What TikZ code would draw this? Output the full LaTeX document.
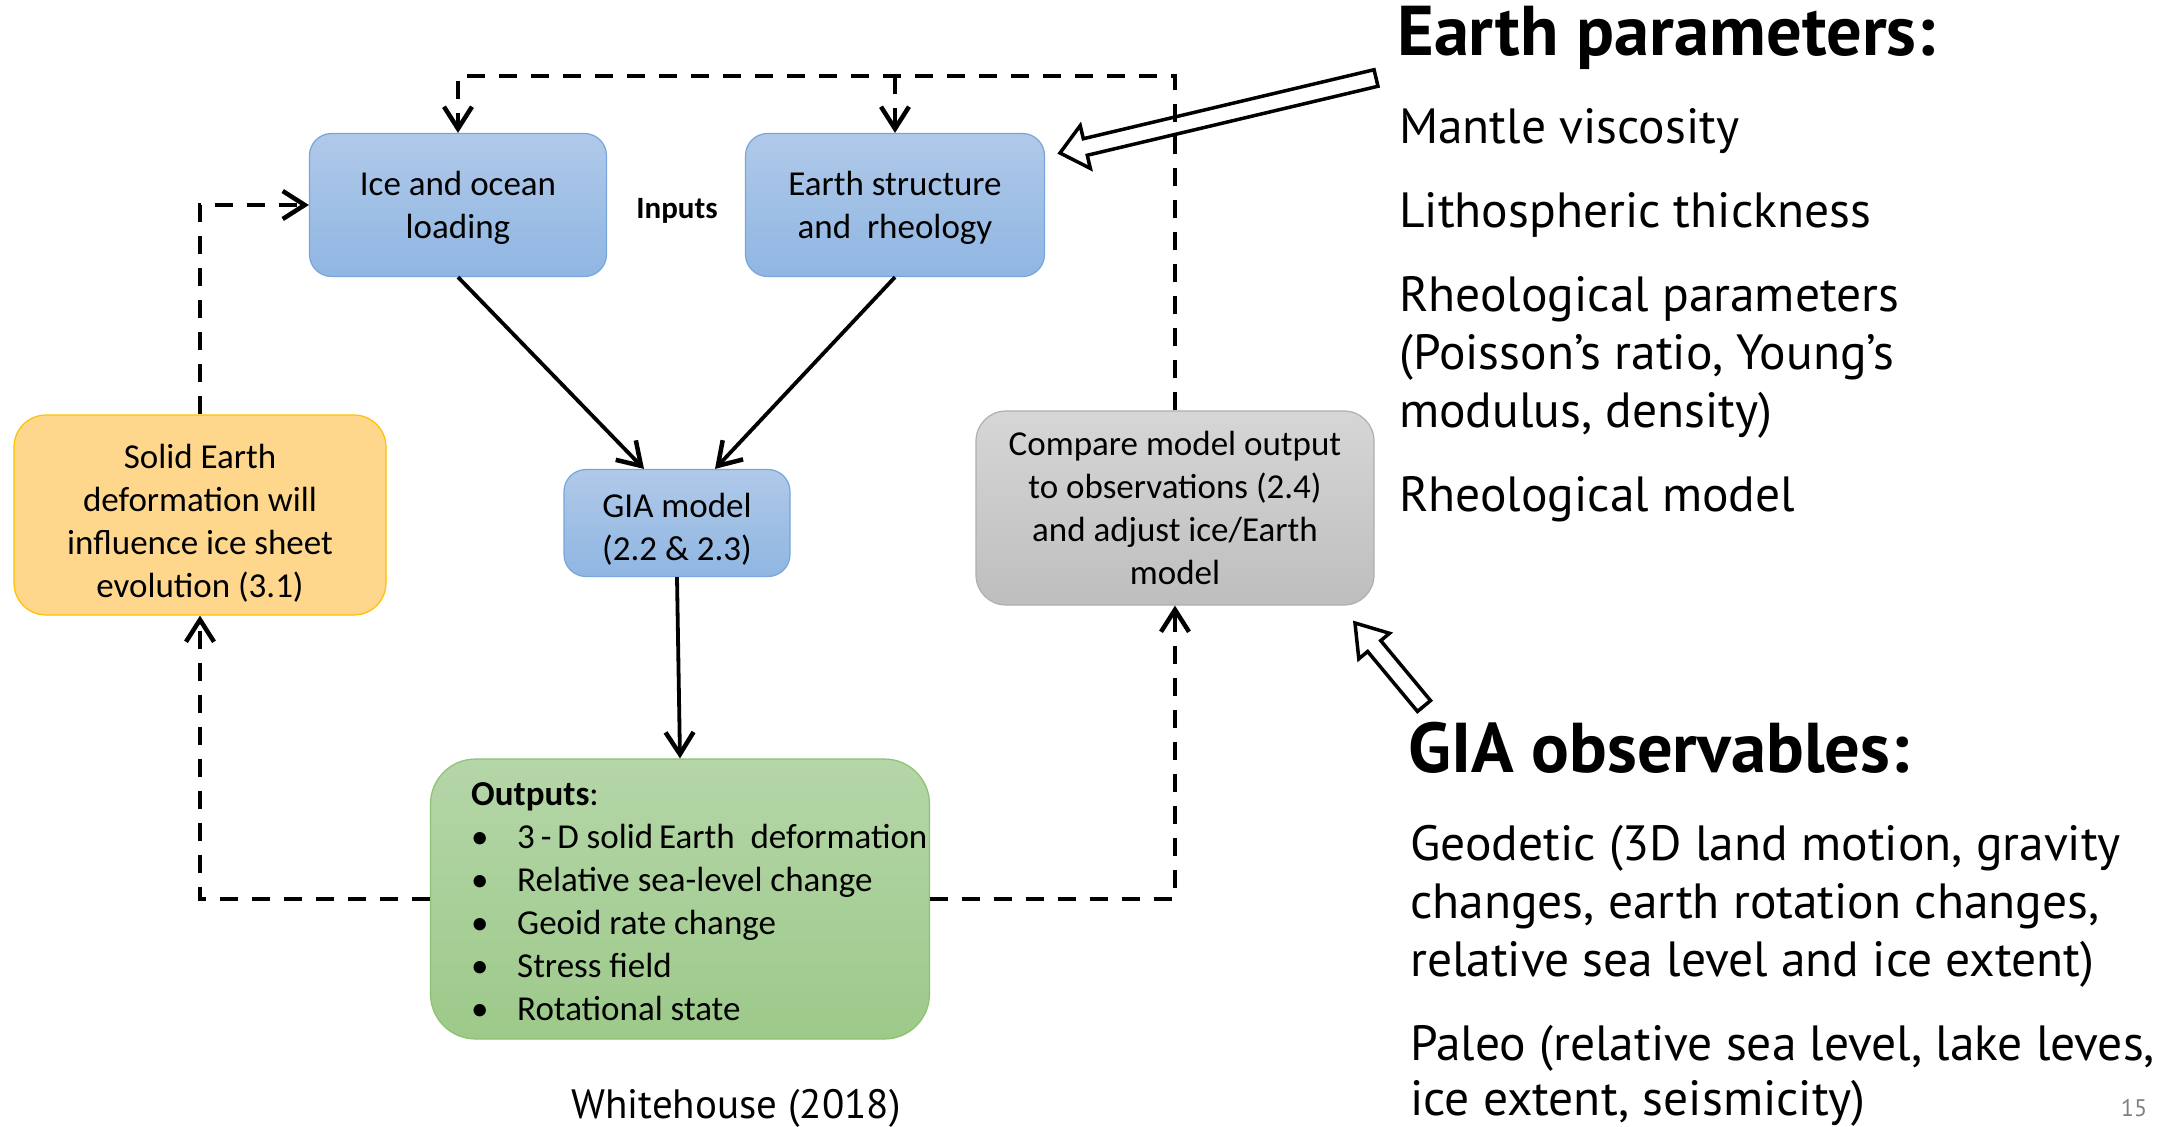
\documentclass[tikz,border=0pt]{standalone}
\usepackage{fontspec}
\setmainfont{Carlito}
\newfontfamily\gill{PT Sans}
\usetikzlibrary{arrows.meta,calc}
\definecolor{bluetop}{RGB}{176,201,233}
\definecolor{bluebot}{RGB}{143,182,226}
\definecolor{blueline}{RGB}{120,165,220}
\definecolor{orfill}{RGB}{254,215,140}
\definecolor{orline}{RGB}{255,192,0}
\definecolor{graytop}{RGB}{214,214,214}
\definecolor{graybot}{RGB}{190,190,190}
\definecolor{grayline}{RGB}{175,175,175}
\definecolor{greentop}{RGB}{181,214,168}
\definecolor{greenbot}{RGB}{157,201,138}
\definecolor{greenline}{RGB}{140,194,112}
\newcommand{\boxfont}{\fontsize{35}{43}\selectfont}
\newcommand{\rfont}{\gill\fontsize{49.5}{58}\selectfont}
\newcommand{\rbfont}{\gill\bfseries\fontsize{70.5}{76}\selectfont}
\newcommand{\lift}[1]{\rule{0pt}{#1pt}}
\tikzset{
  bluebox/.style={draw=blueline, line width=1.2pt, rounded corners=22pt, top color=bluetop, bottom color=bluebot, align=center, font=\boxfont, inner sep=0pt},
  orbox/.style={draw=orline, line width=1.2pt, rounded corners=32pt, fill=orfill, align=center, font=\boxfont, inner sep=0pt},
  graybox/.style={draw=grayline, line width=1.2pt, rounded corners=30pt, top color=graytop, bottom color=graybot, align=center, font=\boxfont, inner sep=0pt},
  greenbox/.style={draw=greenline, line width=1.2pt, rounded corners=45pt, top color=greentop, bottom color=greenbot, inner sep=0pt},
  tip/.style={-{Straight Barb[length=22pt,width=28pt,line width=4.5pt]}},
  dasharrow/.style={line width=4pt, dash pattern=on 18pt off 14pt, tip},
  solidarrow/.style={line width=3.8pt, tip},
  blockarrow/.style={draw=black, line width=3.5pt, fill=white, line join=miter},
  rtext/.style={anchor=base west, inner sep=0pt, font=\rfont},
  rtitle/.style={anchor=base west, inner sep=0pt, font=\rbfont}
}
\begin{document}
\begin{tikzpicture}[x=1pt,y=-1pt]
\fill[white] (0,0) rectangle (2161,1127);
\useasboundingbox (0,0) rectangle (2161,1127);

% boxes
\node[bluebox, minimum width=297pt, minimum height=143pt] (ice) at (458,205) {\lift{31}Ice and ocean\\loading};
\node[bluebox, minimum width=299pt, minimum height=143pt] (earth) at (895,205) {\lift{31}Earth structure\\and\ \ rheology};
\node[font=\bfseries\fontsize{31}{37}\selectfont, inner sep=0pt] (inputs) at (677,211) {Inputs};
\node[bluebox, minimum width=226pt, minimum height=107pt] (gia) at (677,523) {\lift{36}GIA model\\(2.2 \& 2.3)};
\node[orbox, minimum width=372pt, minimum height=200pt] (solid) at (200,515) {\lift{41}Solid Earth\\deformation will\\influence ice sheet\\evolution (3.1)};
\node[graybox, minimum width=398pt, minimum height=194pt] (comp) at (1175,508) {Compare model output\\to observations (2.4)\\and adjust ice/Earth\\model};
\node[greenbox, minimum width=499pt, minimum height=280pt] (out) at (680,899) {};
\node[anchor=north west, inner sep=0pt, align=left, font=\boxfont] (outtxt) at (471,782) {%
\textbf{Outputs}:\\
\makebox[46pt][l]{\textbullet}3\,-\,D solid\,Earth\ \ deformation\\
\makebox[46pt][l]{\textbullet}Relative sea-level change\\
\makebox[46pt][l]{\textbullet}Geoid rate change\\
\makebox[46pt][l]{\textbullet}Stress field\\
\makebox[46pt][l]{\textbullet}Rotational state};

% block arrows (drawn below the dashed line)
\coordinate (tA) at (1060,153);
\coordinate (eA) at (1376,78);
\coordinate (hA) at ($(tA)!26pt!(eA)$);
\draw[blockarrow] (tA) -- ($(hA)!22pt!90:(eA)$) -- ($(hA)!8.5pt!90:(eA)$) -- ($(eA)!8.5pt!-90:(tA)$) -- ($(eA)!8.5pt!90:(tA)$) -- ($(hA)!8.5pt!-90:(eA)$) -- ($(hA)!22pt!-90:(eA)$) -- cycle;
\coordinate (tB) at (1355,623);
\coordinate (eB) at (1424,706);
\coordinate (hB) at ($(tB)!30pt!(eB)$);
\draw[blockarrow] (tB) -- ($(hB)!20pt!90:(eB)$) -- ($(hB)!8.5pt!90:(eB)$) -- ($(eB)!8.5pt!-90:(tB)$) -- ($(eB)!8.5pt!90:(tB)$) -- ($(hB)!8.5pt!-90:(eB)$) -- ($(hB)!20pt!-90:(eB)$) -- cycle;

% dashed feedback connectors
\coordinate (topR) at (1175,76);
\draw[dasharrow] (comp.north) -- (topR) -| (ice.north);
\draw[dasharrow] (earth.north |- topR) -- (earth.north);
\draw[dasharrow] (solid.north) |- (ice.west);
\draw[dasharrow] (out.west) -| (solid.south);
\draw[dasharrow] (out.east) -| (comp.south);

% solid arrows
\draw[solidarrow] (ice.south) -- ($(gia.north)+(-33,0)$);
\draw[solidarrow] (earth.south) -- ($(gia.north)+(38,0)$);
\draw[solidarrow] (gia.south) -- (out.north);

% right texts
\node[rtitle] (ep) at (1397,55) {Earth parameters:};
\node[rtext] (mv) at (1399,143) {Mantle viscosity};
\node[rtext] (lt) at (1399,227) {Lithospheric thickness};
\node[rtext] (rp1) at (1399,311) {Rheological parameters};
\node[rtext] (rp2) at (1399,369) {(Poisson’s ratio, Young’s};
\node[rtext] (rp3) at (1399,427) {modulus, density)};
\node[rtext] (rm) at (1399,511) {Rheological model};

\node[rtitle] (go) at (1408,772) {GIA observables:};
\node[rtext] (g1) at (1410,860) {Geodetic (3D land motion, gravity};
\node[rtext] (g2) at (1410,918) {changes, earth rotation changes,};
\node[rtext] (g3) at (1410,976) {relative sea level and ice extent)};
\node[rtext] (p1) at (1410,1060) {Paleo (relative sea level, lake leves,};
\node[rtext] (p2) at (1410,1115) {ice extent, seismicity)};

\node[anchor=base, inner sep=0pt, font=\gill\fontsize{41}{44}\selectfont] (cite) at (736,1118) {Whitehouse (2018)};
\node[anchor=base, inner sep=0pt, text=gray, font=\gill\fontsize{24}{26}\selectfont] (pg) at (2134,1116) {15};
\end{tikzpicture}
\end{document}
